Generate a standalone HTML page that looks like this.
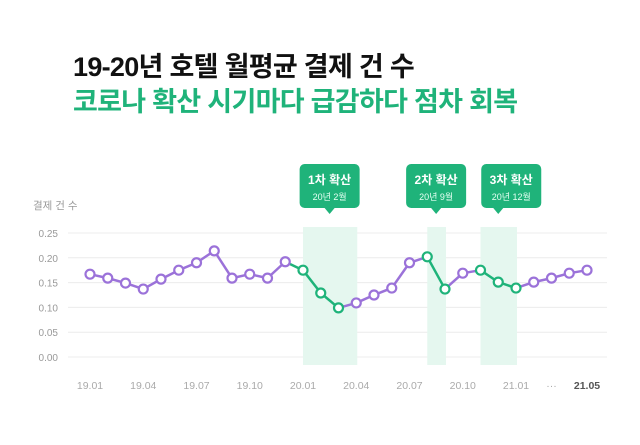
<!DOCTYPE html>
<html><head><meta charset="utf-8"><style>
body{margin:0;background:#fff;width:640px;height:445px;overflow:hidden;font-family:"Liberation Sans","Noto Sans CJK KR",sans-serif}
.t{position:absolute;left:73px;font-weight:bold;font-size:27px;letter-spacing:-0.7px;line-height:1}
</style></head><body>
<div class="t" style="top:54px;color:#111">19-20년 호텔 월평균 결제 건 수</div>
<div class="t" style="top:89px;color:#1fb37a">코로나 확산 시기마다 급감하다 점차 회복</div>
<svg id="c" width="640" height="445" style="position:absolute;left:0;top:0" font-family="Liberation Sans, Noto Sans CJK KR, sans-serif"></svg>
<script>
const labels=["19.01","19.02","19.03","19.04","19.05","19.06","19.07","19.08","19.09","19.10","19.11","19.12","20.01","20.02","20.03","20.04","20.05","20.06","20.07","20.08","20.09","20.10","20.11","20.12","21.01","21.02","21.03","21.04","21.05"];
const values=[0.167,0.159,0.149,0.137,0.157,0.175,0.19,0.214,0.159,0.167,0.159,0.192,0.175,0.129,0.099,0.109,0.125,0.139,0.19,0.202,0.137,0.169,0.175,0.151,0.139,0.151,0.159,0.169,0.175];
const greenIdx=[12,13,14,19,20,22,23,24];
const yTicks=[0,0.05,0.1,0.15,0.2,0.25];
const xTickLabels=["19.01","19.04","19.07","19.10","20.01","20.04","20.07","20.10","21.01","···","21.05"];
const xTickIdx=[0,3,6,9,12,15,18,21,24,26,28];
const bands=[[12,15],[19,20],[22,24]];
const callouts=[["1차 확산","20년 2월",0],["2차 확산","20년 9월",1],["3차 확산","20년 12월",2]];
const boxShift=[0,0,13];
const X=i=>90+i*(587-90)/28, Y=v=>357-v*496;
const s=document.getElementById('c'),NS="http://www.w3.org/2000/svg";
function mk(t,a,p){const e=document.createElementNS(NS,t);for(const k in a)e.setAttribute(k,a[k]);(p||s).appendChild(e);return e;}
const G="#1fb37a",P="#9b72d9";
yTicks.forEach(v=>{const l=mk('line',{x1:68,x2:607,y1:Y(v),y2:Y(v),stroke:'#ececec'});


const t=mk('text',{x:58,y:Y(v)+4,'text-anchor':'end','font-size':10,fill:'#999'});t.textContent=v.toFixed(2);

});
const yt=mk('text',{x:33,y:209,'font-size':10.5,fill:'#999'});yt.textContent='결제 건 수';


bands.forEach(b=>{const r=mk('rect',{x:X(b[0]),y:227,width:X(b[1])-X(b[0])+1,height:138,fill:'#e5f7ef'});

});
callouts.forEach(c=>{const b0=bands[c[2]];const cx=(X(b0[0])+X(b0[1]))/2;const bx=cx+boxShift[c[2]];const x0=bx-30;
const g=mk('g',{});


mk('rect',{x:x0,y:164,width:60,height:44,rx:5,fill:G},g);
mk('path',{d:`M${cx-5} 208 L${cx} 214 L${cx+5} 208Z`,fill:G},g);
const a=mk('text',{x:bx,y:184,'text-anchor':'middle','font-size':12,'font-weight':'bold',fill:'#fff'},g);a.textContent=c[0];
const b=mk('text',{x:bx,y:200,'text-anchor':'middle','font-size':9,fill:'#e6fff3'},g);b.textContent=c[1];});
const isG=i=>greenIdx.includes(i);
for(let i=0;i<values.length-1;i++){const l=mk('line',{x1:X(i),y1:Y(values[i]),x2:X(i+1),y2:Y(values[i+1]),stroke:(isG(i+1)&&(isG(i)||i+1==12))?G:P,'stroke-width':2.5});

}
values.forEach((v,i)=>{const c=mk('circle',{cx:X(i),cy:Y(v),r:4.5,fill:'#fff',stroke:isG(i)?G:P,'stroke-width':2.2});

});
xTickLabels.forEach((t,k)=>{const e=mk('text',{x:X(xTickIdx[k]),y:389,'text-anchor':'middle','font-size':10.5,fill:t=="21.05"?'#555':'#aaa','font-weight':t=="21.05"?'bold':'normal'});e.textContent=t;

});
</script>
</body></html>
